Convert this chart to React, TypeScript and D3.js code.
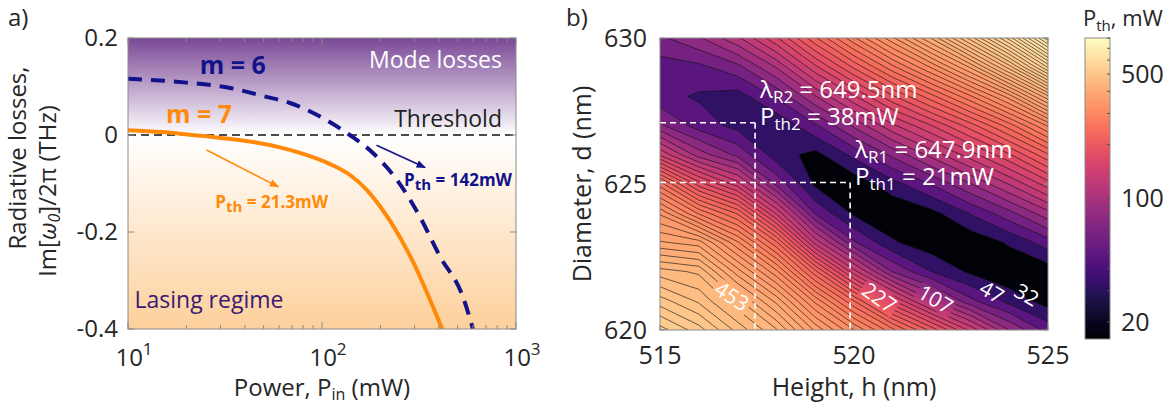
import React from 'react';
import * as d3 from 'd3';

// ---- panel a) radiative losses vs pump power ----
const powerM7 = [10, 15, 21.3, 30, 45, 60, 80, 110, 140, 170, 200, 250, 300, 350, 417];
const lossM7 = [0.01, 0.006, 0, -0.006, -0.015, -0.025, -0.039, -0.06, -0.083, -0.113, -0.148, -0.208, -0.268, -0.328, -0.4];
const powerM6 = [10, 20, 33.6, 50, 68.4, 101, 139, 183, 244, 320, 405, 533, 600];
const lossM6 = [0.116, 0.108, 0.097, 0.08, 0.066, 0.035, 0, -0.037, -0.093, -0.169, -0.25, -0.334, -0.4];
const powerTicks = [10, 100, 1000];
const powerTickExp = ['1', '2', '3'];
const lossTicks = [0.2, 0, -0.2, -0.4];
const lossTickLabels = ['0.2', '0', '-0.2', '-0.4'];

// ---- panel b) threshold power map ----
const heights = [515, 516, 517, 518, 519, 520, 521, 522, 523, 524, 525];
const diameters = [630, 629, 628, 627, 626, 625, 624, 623, 622, 621, 620];
// Pth (mW), rows = diameters (top to bottom), columns = heights
const pthGrid = [
  [74, 90, 119, 165, 225, 285, 345, 410, 490, 580, 690],
  [55, 58, 72, 108, 163, 215, 268, 320, 380, 460, 560],
  [52, 45, 40, 64, 106, 150, 195, 237, 285, 340, 420],
  [80, 55, 42, 34, 59, 95, 134, 167, 205, 250, 305],
  [150, 100, 73, 39, 27, 51, 81, 112, 145, 180, 225],
  [265, 190, 144, 73, 29, 22, 41, 63, 91, 123, 160],
  [345, 285, 240, 149, 60, 29, 19, 27, 48, 72, 102],
  [395, 385, 320, 245, 131, 64, 34, 22, 21, 34, 55],
  [460, 450, 385, 322, 232, 143, 76, 47, 29, 20, 23],
  [505, 480, 442, 388, 313, 242, 169, 108, 66, 41, 25],
  [550, 520, 478, 440, 375, 318, 262, 207, 148, 92, 56],
];
const pthLevelStart = 16.96;
const pthLevelStep = 15.04;
const pthLevelCount = 53;
const colorDomain = [16, 800];
const heightTicks = [515, 520, 525];
const diameterTicks = [620, 625, 630];
const pthTicks = [20, 100, 500];
const contourLabels = [
  { text: '453', h: 516.85, d: 621.15, angle: 33, w: 40 },
  { text: '227', h: 520.65, d: 621.1, angle: 35, w: 40 },
  { text: '107', h: 522.1, d: 621.05, angle: 30, w: 40 },
  { text: '47', h: 523.55, d: 621.3, angle: 30, w: 28 },
  { text: '32', h: 524.45, d: 621.2, angle: 30, w: 28 },
];
const resonances = [
  { lambda: '649.5nm', pth: '38mW', idx: '2', h: 517.45, d: 627.1 },
  { lambda: '647.9nm', pth: '21mW', idx: '1', h: 519.9, d: 625.05 },
];

const font = '"Open Sans", sans-serif';
const axisColor = '#8a8a8a';
const textColor = '#262626';
const orange = '#ff8a0a';
const navy = '#12128a';

const App = () => {
  // panel a scales
  const xA = d3.scaleLog().domain([10, 1000]).range([128, 516]);
  const yA = d3.scaleLinear().domain([-0.4, 0.2]).range([329, 38]);
  const lineA = d3
    .line<number[]>()
    .x((d) => xA(d[0]))
    .y((d) => yA(d[1]))
    .curve(d3.curveMonotoneX);
  const m7 = powerM7.map((p, i) => [p, lossM7[i]]);
  const m6 = powerM6.map((p, i) => [p, lossM6[i]]);
  const [ax0, ax1] = xA.range();
  const [ay1, ay0] = yA.range();
  const zeroFrac = (yA(0) - ay0) / (ay1 - ay0);

  // panel b scales
  const xB = d3.scaleLinear().domain([515, 525]).range([660, 1048]);
  const yB = d3.scaleLinear().domain([620, 630]).range([330, 38]);
  const color = d3.scaleSequentialLog(d3.interpolateMagma).domain(colorDomain);
  const levels = d3.range(pthLevelCount).map((k) => pthLevelStart + k * pthLevelStep);
  const contours = d3
    .contours()
    .size([heights.length, diameters.length])
    .thresholds(levels)(pthGrid.flat());
  const hStep = heights[1] - heights[0];
  const dStep = diameters[1] - diameters[0];
  const gridTransform = d3.geoTransform({
    point: function (x, y) {
      this.stream.point(
        xB(heights[0] + (x - 0.5) * hStep),
        yB(diameters[0] + (y - 0.5) * dStep)
      );
    },
  });
  const contourPath = d3.geoPath(gridTransform);
  const [bx0, bx1] = xB.range();
  const [by1, by0] = yB.range();

  // colorbar
  const cbY = d3.scaleLog().domain(colorDomain).range([339, 38]);
  const cbX0 = 1085;
  const cbX1 = 1110;
  const gradStops = d3.range(0, 1.0001, 0.05);

  return (
    <svg
      width={1172}
      height={407}
      style={{ position: 'absolute', left: 0, top: 0, background: '#fff' }}
      fontFamily={font}
    >
      <defs>
        <linearGradient id="lossGrad" x1="0" y1="0" x2="0" y2="1">
          <stop offset={0} stopColor="#7a4896" />
          <stop offset={zeroFrac} stopColor="#ffffff" />
          <stop offset={1} stopColor="#fdd09b" />
        </linearGradient>
        <linearGradient id="cbGrad" x1="0" y1="1" x2="0" y2="0">
          {gradStops.map((t) => (
            <stop key={t} offset={t} stopColor={d3.interpolateMagma(t)} />
          ))}
        </linearGradient>
        <clipPath id="clipA">
          <rect x={ax0} y={ay0} width={ax1 - ax0} height={ay1 - ay0} />
        </clipPath>
        <clipPath id="clipB">
          <rect x={bx0} y={by0} width={bx1 - bx0} height={by1 - by0} />
        </clipPath>
        <mask id="labelGaps" maskUnits="userSpaceOnUse" x={0} y={0} width={1172} height={407}>
          <rect x={0} y={0} width={1172} height={407} fill="#fff" />
          {contourLabels.map((l) => (
            <rect
              key={'m' + l.text}
              x={-l.w / 2}
              y={-10}
              width={l.w}
              height={20}
              fill="#000"
              transform={`translate(${xB(l.h)},${yB(l.d)}) rotate(${l.angle})`}
            />
          ))}
        </mask>
        <marker id="arrOrange" viewBox="0 0 10 10" refX="9" refY="5" markerWidth="6" markerHeight="6" orient="auto">
          <path d="M0,1 L10,5 L0,9 z" fill={orange} />
        </marker>
        <marker id="arrNavy" viewBox="0 0 10 10" refX="9" refY="5" markerWidth="6" markerHeight="6" orient="auto">
          <path d="M0,1 L10,5 L0,9 z" fill={navy} />
        </marker>
      </defs>

      {/* ================= panel a ================= */}
      <text x={8} y={26} fontSize={24} fill={textColor}>a)</text>
      <rect x={ax0} y={ay0} width={ax1 - ax0} height={ay1 - ay0} fill="url(#lossGrad)" />
      <g clipPath="url(#clipA)">
        <line x1={ax0} x2={ax1} y1={yA(0)} y2={yA(0)} stroke="#111" strokeWidth={1.6} strokeDasharray="8,5" />
        <path d={lineA(m7) || ''} fill="none" stroke={orange} strokeWidth={4} />
        <path d={lineA(m6) || ''} fill="none" stroke={navy} strokeWidth={4} strokeDasharray="14,9" />
      </g>
      {/* annotations */}
      <text x={xA(847)} y={yA(0.138)} fontSize={23} fill="#fff" textAnchor="end">Mode losses</text>
      <text x={xA(847)} y={yA(0.017)} fontSize={23} fill="#222" textAnchor="end">Threshold</text>
      <text x={xA(23.4)} y={yA(0.126)} fontSize={25} fontWeight="bold" fill={navy}>m = 6</text>
      <text x={xA(15.7)} y={yA(0.024)} fontSize={25} fontWeight="bold" fill={orange}>m = 7</text>
      <text x={xA(10.8)} y={yA(-0.357)} fontSize={23} fill="#3a1a72">Lasing regime</text>
      <line x1={xA(25.4)} y1={yA(-0.031)} x2={xA(59.6)} y2={yA(-0.107)} stroke={orange} strokeWidth={1.6} markerEnd="url(#arrOrange)" />
      <line x1={xA(191)} y1={yA(-0.021)} x2={xA(340)} y2={yA(-0.067)} stroke={navy} strokeWidth={1.6} markerEnd="url(#arrNavy)" />
      <text x={xA(28.2)} y={yA(-0.151)} fontSize={17} fontWeight="bold" fill={orange}>
        P<tspan dy={4} fontSize={15}>th</tspan><tspan dy={-4}> = 21.3mW</tspan>
      </text>
      <text x={xA(265)} y={yA(-0.105)} fontSize={17} fontWeight="bold" fill={navy}>
        P<tspan dy={4} fontSize={15}>th</tspan><tspan dy={-4}> = 142mW</tspan>
      </text>
      {/* frame and ticks */}
      <rect x={ax0} y={ay0} width={ax1 - ax0} height={ay1 - ay0} fill="none" stroke={axisColor} strokeWidth={1} />
      {xA.ticks().map((t) => {
        const major = powerTicks.includes(t);
        const len = major ? 7 : 4;
        return (
          <g key={'xa' + t}>
            <line x1={xA(t)} x2={xA(t)} y1={ay1} y2={ay1 - len} stroke={axisColor} />
            <line x1={xA(t)} x2={xA(t)} y1={ay0} y2={ay0 + len} stroke={axisColor} />
          </g>
        );
      })}
      {lossTicks.map((t) => (
        <g key={'ya' + t}>
          <line x1={ax0} x2={ax0 + 6} y1={yA(t)} y2={yA(t)} stroke={axisColor} />
          <line x1={ax1} x2={ax1 - 6} y1={yA(t)} y2={yA(t)} stroke={axisColor} />
        </g>
      ))}
      {powerTicks.map((t, i) => (
        <text key={'xl' + t} x={xA(t) + 6} y={366} fontSize={24} fill={textColor} textAnchor="middle">
          10<tspan dy={-11} fontSize={17}>{powerTickExp[i]}</tspan>
        </text>
      ))}
      {lossTicks.map((t, i) => (
        <text key={'yl' + t} x={118} y={yA(t)} dy="0.35em" fontSize={24} fill={textColor} textAnchor="end">
          {lossTickLabels[i]}
        </text>
      ))}
      <text x={(ax0 + ax1) / 2} y={396} fontSize={24} fill={textColor} textAnchor="middle">
        Power, P<tspan dy={4} fontSize={16}>in</tspan><tspan dy={-4}> (mW)</tspan>
      </text>
      <text transform="translate(26,158) rotate(-90)" fontSize={24} fill={textColor} textAnchor="middle">
        Radiative losses,
      </text>
      <text transform="translate(56,191) rotate(-90)" fontSize={24} fill={textColor} textAnchor="middle">
        Im[<tspan fontStyle="italic">ω</tspan><tspan fontStyle="italic" fontSize={16} dy={4}>0</tspan><tspan dy={-4}>]/2π (THz)</tspan>
      </text>

      {/* ================= panel b ================= */}
      <text x={566} y={26} fontSize={24} fill={textColor}>b)</text>
      <g clipPath="url(#clipB)">
        {contours.map((c, i) => (
          <path key={'cf' + i} d={contourPath(c) || ''} fill={color(c.value)} stroke="none" />
        ))}
        <g mask="url(#labelGaps)">
          {contours.map((c, i) => (
            <path
              key={'cs' + i}
              d={contourPath(c) || ''}
              fill="none"
              stroke="#141414"
              strokeWidth={0.7}
              strokeOpacity={0.9}
            />
          ))}
        </g>
        {resonances.map((r) => (
          <g key={'dash' + r.idx} stroke="#fff" strokeWidth={1.6} strokeDasharray="6,4" fill="none">
            <line x1={bx0} x2={xB(r.h)} y1={yB(r.d)} y2={yB(r.d)} />
            <line x1={xB(r.h)} x2={xB(r.h)} y1={yB(r.d)} y2={by1} />
          </g>
        ))}
        {contourLabels.map((l) => (
          <text
            key={'cl' + l.text}
            transform={`translate(${xB(l.h)},${yB(l.d)}) rotate(${l.angle})`}
            fontSize={21}
            fill="#fff"
            textAnchor="middle"
            dy="0.35em"
          >
            {l.text}
          </text>
        ))}
      </g>
      {resonances.map((r) => (
        <g key={'ann' + r.idx} fill="#fff" fontSize={24}>
          <text x={xB(r.h) + 5} y={yB(r.d) - 25}>
            λ<tspan dy={5} fontSize={17}>R{r.idx}</tspan><tspan dy={-5}> = {r.lambda}</tspan>
          </text>
          <text x={xB(r.h) + 5} y={yB(r.d) + 2}>
            P<tspan dy={5} fontSize={17}>th{r.idx}</tspan><tspan dy={-5}> = {r.pth}</tspan>
          </text>
        </g>
      ))}
      <rect x={bx0} y={by0} width={bx1 - bx0} height={by1 - by0} fill="none" stroke={axisColor} strokeWidth={1} />
      {heightTicks.map((t) => (
        <g key={'xb' + t}>
          <line x1={xB(t)} x2={xB(t)} y1={by1} y2={by1 - 5} stroke={axisColor} />
          <line x1={xB(t)} x2={xB(t)} y1={by0} y2={by0 + 5} stroke={axisColor} />
          <text x={xB(t)} y={364} fontSize={25} fill={textColor} textAnchor="middle">{t}</text>
        </g>
      ))}
      {diameterTicks.map((t) => (
        <g key={'yb' + t}>
          <line x1={bx0} x2={bx0 + 5} y1={yB(t)} y2={yB(t)} stroke={axisColor} />
          <line x1={bx1} x2={bx1 - 5} y1={yB(t)} y2={yB(t)} stroke={axisColor} />
          <text x={647} y={yB(t)} dy="0.35em" fontSize={25} fill={textColor} textAnchor="end">{t}</text>
        </g>
      ))}
      <text x={(bx0 + bx1) / 2} y={396} fontSize={25} fill={textColor} textAnchor="middle">
        Height, h (nm)
      </text>
      <text transform={`translate(591,${(by0 + by1) / 2}) rotate(-90)`} fontSize={25} fill={textColor} textAnchor="middle">
        Diameter, d (nm)
      </text>

      {/* colorbar */}
      <rect x={cbX0} y={cbY.range()[1]} width={cbX1 - cbX0} height={cbY.range()[0] - cbY.range()[1]} fill="url(#cbGrad)" stroke={axisColor} strokeWidth={1} />
      {cbY.ticks().map((t) => (
        <line key={'cbt' + t} x1={cbX1} x2={cbX1 - 3} y1={cbY(t)} y2={cbY(t)} stroke="#555" />
      ))}
      {pthTicks.map((t) => (
        <text key={'cbl' + t} x={1121} y={cbY(t)} dy="0.35em" fontSize={25} fill={textColor}>{t}</text>
      ))}
      <text x={1083} y={26} fontSize={22} fill={textColor}>
        P<tspan dy={5} fontSize={15}>th</tspan><tspan dy={-5}>, mW</tspan>
      </text>
    </svg>
  );
};

export default App;
